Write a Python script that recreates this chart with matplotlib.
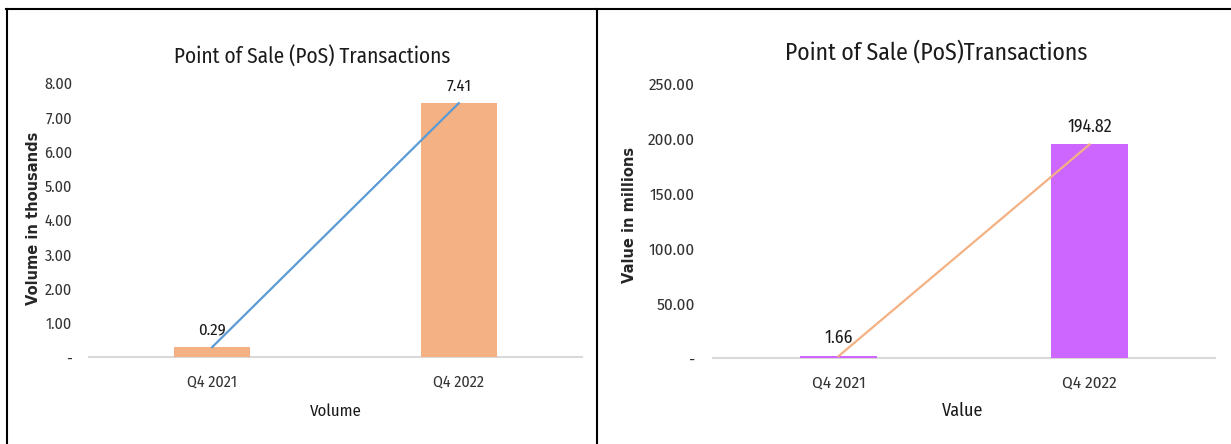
import matplotlib
matplotlib.use("Agg")
import matplotlib.pyplot as plt
from matplotlib.lines import Line2D

categories = ["Q4 2021", "Q4 2022"]
volume = [0.29, 7.41]
value = [1.66, 194.82]
vol_ticks = [0, 1, 2, 3, 4, 5, 6, 7, 8]
val_ticks = [0, 50, 100, 150, 200, 250]

W, H = 1231, 444
fig = plt.figure(figsize=(W / 100, H / 100), dpi=100)
fig.patch.set_facecolor("white")

NARROW = ["Fira Sans Condensed", "DejaVu Sans"]


def fmt(v):
    return "-" if v == 0 else f"{v:.2f}"


def panel(rect, vals, ticks, ylim, bar_color, line_color, title, title_xy, title_fs,
          ylab, ylab_xy, xlab, xlab_xy, xlab_fs, pad, tick_fs, lab_fs):
    ax = fig.add_axes(rect)
    x = list(range(len(categories)))
    ax.bar(x, vals, width=0.31, color=bar_color, zorder=2)
    ax.plot(x, vals, color=line_color, linewidth=1.6, zorder=3)
    for xi, v in zip(x, vals):
        ax.annotate(f"{v:.2f}", (xi, v), xytext=(0, 6.5), textcoords="offset points",
                    ha="center", va="bottom", fontsize=lab_fs, family=NARROW,
                    color="#1a1a1a")
    ax.set_xlim(-0.5, 1.5)
    ax.set_ylim(*ylim)
    ax.set_yticks(ticks)
    ax.set_yticklabels([fmt(t) for t in ticks], family=NARROW, fontsize=tick_fs,
                       color="#333333")
    ax.set_xticks(x)
    ax.set_xticklabels(categories, family=NARROW, fontsize=tick_fs, color="#333333")
    ax.tick_params(axis="y", length=0, pad=pad)
    ax.tick_params(axis="x", length=0, pad=12)
    for s in ["top", "right", "left"]:
        ax.spines[s].set_visible(False)
    ax.spines["bottom"].set_color("#D9D9D9")
    ax.spines["bottom"].set_linewidth(1.5)
    ax.spines["bottom"].set_zorder(1)
    fig.text(title_xy[0] / W, 1 - title_xy[1] / H, title, ha="center", va="center",
             fontsize=title_fs, family=NARROW, color="#1a1a1a")
    fig.text(ylab_xy[0] / W, 1 - ylab_xy[1] / H, ylab, ha="center", va="center",
             rotation=90, fontsize=10.5, fontweight="bold", family="DejaVu Sans",
             color="#262626")
    fig.text(xlab_xy[0] / W, 1 - xlab_xy[1] / H, xlab, ha="center", va="center",
             fontsize=xlab_fs, family=NARROW, color="#1a1a1a")
    return ax


panel([89 / W, 87 / H, 493 / W, 274 / H], volume, vol_ticks, (0, 8),
      "#F4B183", "#5B9BD5", "Point of Sale (PoS) Transactions", (312, 57), 15.3,
      "Volume in thousands", (34, 218), "Volume", (336, 411), 12, 12, 11.5, 12)

panel([713 / W, 86 / H, 502 / W, 274 / H], value, val_ticks, (0, 250),
      "#CC66FF", "#F4B183", "Point of Sale (PoS)Transactions", (936, 52), 17,
      "Value in millions", (629, 215), "Value", (963, 411), 13, 13, 12.3, 12.7)

# outer frame lines
lw = 1.5
fig.add_artist(Line2D([6 / W, 1.0], [1 - 9 / H, 1 - 9 / H], color="black",
                      linewidth=lw, transform=fig.transFigure))
fig.add_artist(Line2D([6.5 / W, 6.5 / W], [0, 1 - 9 / H], color="black",
                      linewidth=lw, transform=fig.transFigure))
fig.add_artist(Line2D([597 / W, 597 / W], [0, 1 - 9 / H], color="black",
                      linewidth=lw, transform=fig.transFigure))

fig.savefig("out.png", dpi=100)
